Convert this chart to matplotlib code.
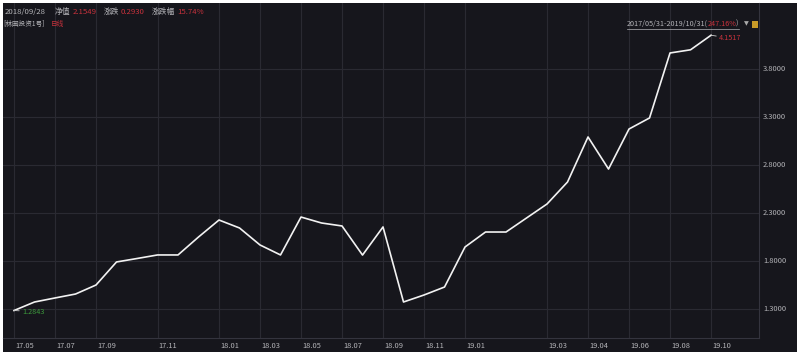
import matplotlib
matplotlib.use("Agg")
import matplotlib.pyplot as plt
from matplotlib.patches import Rectangle

plt.rcParams["font.family"] = ["Noto Sans CJK SC", "DejaVu Sans"]

# 净值序列
nav = [1.2843, 1.373, 1.415, 1.456, 1.550, 1.790, 1.826, 1.863, 1.863, 2.050,
       2.227, 2.144, 1.967, 1.863, 2.258, 2.196, 2.165, 1.8619, 2.1549, 1.373,
       1.446, 1.529, 1.946, 2.102, 2.102, 2.248, 2.394, 2.623, 3.092, 2.758,
       3.175, 3.290, 3.967, 4.000, 4.1517]
tick_idx = [0, 2, 4, 7, 10, 12, 14, 16, 18, 20, 22, 26, 28, 30, 32, 34]
tick_labels = ["17.05", "17.07", "17.09", "17.11", "18.01", "18.03", "18.05", "18.07",
               "18.09", "18.11", "19.01", "19.03", "19.04", "19.06", "19.08", "19.10"]
y_ticks = [1.3, 1.8, 2.3, 2.8, 3.3, 3.8]

W, H = 800, 356
BG = "#16161c"
GRID = "#2a2a32"
TXT = "#b4b4b8"
RED = "#c8323c"
GREEN = "#3c9a3c"


def px(x, y):
    """像素坐标 -> figure 坐标"""
    return x / W, 1 - y / H


fig = plt.figure(figsize=(W / 100, H / 100), dpi=100)
fig.patch.set_facecolor("white")
fig.patches.append(Rectangle(px(3, 352), 794 / W, 349 / H, transform=fig.transFigure,
                             facecolor=BG, edgecolor="none", zorder=-5))

# 主绘图区
left, top, right, bottom = 3, 3, 759, 338
ax = fig.add_axes([left / W, 1 - bottom / H, (right - left) / W, (bottom - top) / H])
ax.set_facecolor(BG)
n = len(nav)
ax.plot(range(n), nav, color="#f2f2f2", linewidth=1.2, zorder=3)
ax.set_xlim(-0.537, 36.34)
ax.set_ylim(0.998, 4.4875)

ax.set_xticks(tick_idx)
ax.set_yticks(y_ticks)
ax.grid(True, color=GRID, linewidth=0.8)
ax.tick_params(length=0, labelbottom=False, labelleft=False)
for s in ax.spines.values():
    s.set_visible(False)
ax.spines["right"].set_visible(True)
ax.spines["right"].set_color("#34343e")
ax.spines["bottom"].set_visible(True)
ax.spines["bottom"].set_color("#34343e")

# 右侧 y 轴标签
for v in y_ticks:
    ax.annotate(f"{v:.4f}", (1, v), xycoords=("axes fraction", "data"),
                xytext=(4, 0), textcoords="offset pixels",
                ha="left", va="center", fontsize=5.4, color=TXT, annotation_clip=False)

# 底部 x 轴标签
for i, lab in zip(tick_idx, tick_labels):
    ax.annotate(lab, (i, 0), xycoords=("data", "axes fraction"),
                xytext=(1, -8), textcoords="offset pixels",
                ha="left", va="center", fontsize=5.4, color=TXT, annotation_clip=False)

# 起点与终点标注
ax.annotate(f"{nav[0]:.4f}", (0, nav[0]), xytext=(8, -1), textcoords="offset pixels",
            ha="left", va="center", fontsize=5.2, color=GREEN,
            arrowprops=dict(arrowstyle="-", color="#cccccc", lw=0.6, shrinkA=0, shrinkB=0))
ax.annotate(f"{nav[-1]:.4f}", (n - 1, nav[-1]), xytext=(8, -3), textcoords="offset pixels",
            ha="left", va="center", fontsize=5.2, color=RED,
            arrowprops=dict(arrowstyle="-", color="#cccccc", lw=0.6, shrinkA=0, shrinkB=0))

# 顶部信息栏
fs = 5.6
fig.text(*px(5, 12), "2018/09/28", fontsize=fs, color=TXT, va="center")
fig.text(*px(55, 12), "净值", fontsize=fs, color=TXT, va="center")
fig.text(*px(73, 12), "2.1549", fontsize=fs, color=RED, va="center")
fig.text(*px(104, 12), "涨跌", fontsize=fs, color=TXT, va="center")
fig.text(*px(121, 12), "0.2930", fontsize=fs, color=RED, va="center")
fig.text(*px(152, 12), "涨跌幅", fontsize=fs, color=TXT, va="center")
fig.text(*px(177, 12), "15.74%", fontsize=fs, color=RED, va="center")
fig.text(*px(3, 24), "[林园投资1号]", fontsize=4.8, color=TXT, va="center")
fig.text(*px(51, 24), "日线", fontsize=4.8, color=RED, va="center")

# 右上角区间收益
fig.text(*px(627, 24), "2017/05/31-2019/10/31(", fontsize=5.2, color=TXT, va="center")
fig.text(*px(708, 24), "247.16%", fontsize=5.2, color=RED, va="center")
fig.text(*px(736, 24), ")", fontsize=5.2, color=TXT, va="center")
fig.text(*px(744, 24), "▼", fontsize=4.5, color="#aaaaaa", va="center", family="DejaVu Sans")
fig.patches.append(Rectangle(px(752, 28), 6 / W, 7 / H, transform=fig.transFigure,
                             facecolor="#c89a28", edgecolor="none"))
fig.add_artist(plt.Line2D([627 / W, 739 / W], [1 - 29 / H, 1 - 29 / H],
                          color=TXT, linewidth=0.5))

fig.savefig("out.png", dpi=100, facecolor=fig.get_facecolor())
